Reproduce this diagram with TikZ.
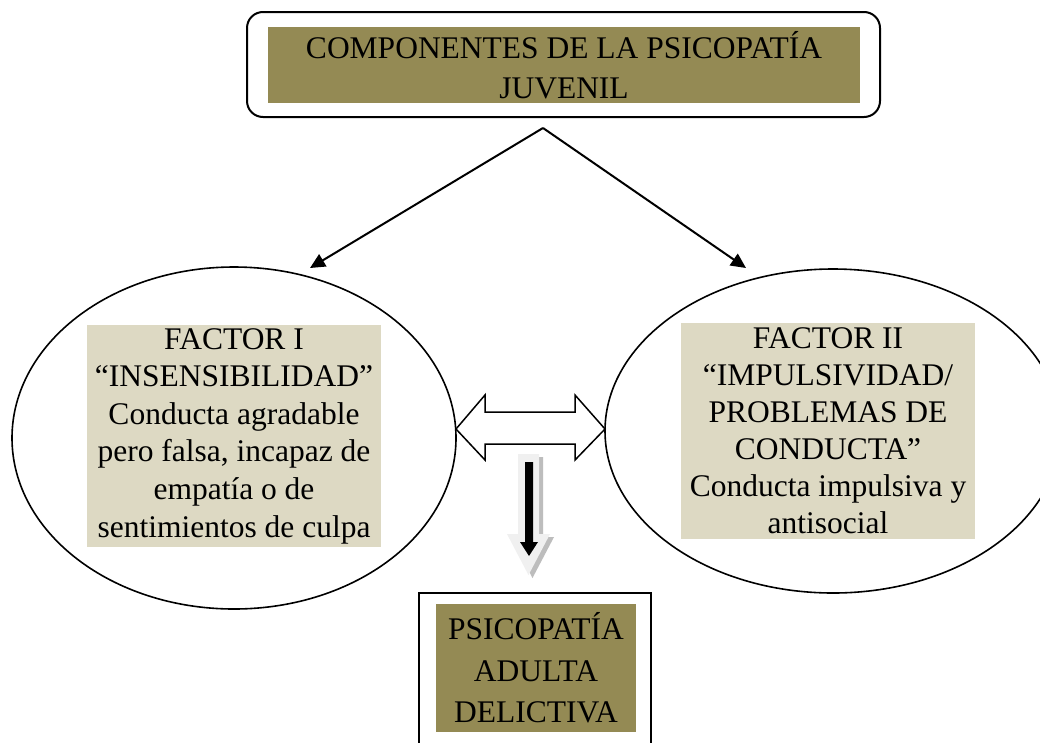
\documentclass[tikz,border=0pt]{standalone}
\usepackage{fontspec}
\setmainfont{Liberation Serif}
\usetikzlibrary{arrows.meta,shapes.geometric}
\definecolor{olivefill}{HTML}{948A54}
\definecolor{tanfill}{HTML}{DDD9C3}
\definecolor{lightarrow}{HTML}{F0F0F0}
\definecolor{shadowgray}{HTML}{BDBDBD}
\begin{document}
\begin{tikzpicture}[x=1pt,y=-1pt,
  txt/.style={align=center,inner sep=0pt,text=black},
  olivebox/.style={txt,fill=olivefill},
  tanbox/.style={txt,fill=tanfill},
  ovalshape/.style={draw,ellipse,inner sep=0pt,line width=1.6pt},
  link/.style={line width=2pt,-{Triangle[length=15pt,width=14pt]}},
  blockarrow/.style={draw,line width=1.5pt,fill=white,line join=miter}
]
\clip (0,0) rectangle (1040,742);
\fill[white] (0,0) rectangle (1040,742);

% top title
\node[draw,line width=2pt,rounded corners=16pt,minimum width=633pt,minimum height=105pt,inner sep=0pt] (topframe) at (563.5,64.5) {};
\node[olivebox,minimum width=592pt,minimum height=76pt,font=\fontsize{31.5}{40}\selectfont] (toptext) at (564,65) {COMPONENTES DE LA PSICOPATÍA\\JUVENIL};

% factor ellipses
\node[ovalshape,minimum width=444pt,minimum height=342pt] (f1) at (234,438) {};
\node[ovalshape,minimum width=456pt,minimum height=324pt] (f2) at (833,431) {};
\node[tanbox,minimum width=294pt,minimum height=222pt,font=\fontsize{31.5}{37.6}\selectfont] (f1text) at (234,436) {FACTOR I\\“INSENSIBILIDAD”\\Conducta agradable\\pero falsa, incapaz de\\empatía o de\\sentimientos de culpa};
\node[tanbox,minimum width=294pt,minimum height=216pt,font=\fontsize{31.5}{37}\selectfont] (f2text) at (828,431) {FACTOR II\\“IMPULSIVIDAD/\\PROBLEMAS DE\\CONDUCTA”\\Conducta impulsiva y\\antisocial};

% arrows from title
\coordinate (split) at (543,128);
\coordinate (tipL) at (310,268);
\coordinate (tipR) at (746,268);
\draw[link] (split) -- (tipL);
\draw[link] (split) -- (tipR);

% double block arrow between factors
\path[blockarrow] (456,429) -- (485,395) -- (485,412) -- (575,412) -- (575,395) -- (605,429)
  -- (575,460) -- (575,444) -- (485,444) -- (485,460) -- cycle;

% downward shadowed arrow
\fill[shadowgray] (522,457) -- (543,457) -- (543,537) -- (554,537) -- (532.5,578) -- (511,537) -- (522,537) -- cycle;
\fill[lightarrow] (518,454) -- (539,454) -- (539,534) -- (550,534) -- (528.5,575) -- (507,534) -- (518,534) -- cycle;
\fill[black] (525,462) -- (533,462) -- (533,542) -- (538,542) -- (529,556) -- (520,542) -- (525,542) -- cycle;

% bottom box
\node[draw,line width=1.5pt,minimum width=232pt,minimum height=180pt,inner sep=0pt] (bframe) at (535,683) {};
\node[olivebox,minimum width=200pt,minimum height=128pt,font=\fontsize{31.5}{41.5}\selectfont] (btext) at (536,668) {PSICOPATÍA\\ADULTA\\DELICTIVA};
\end{tikzpicture}
\end{document}
